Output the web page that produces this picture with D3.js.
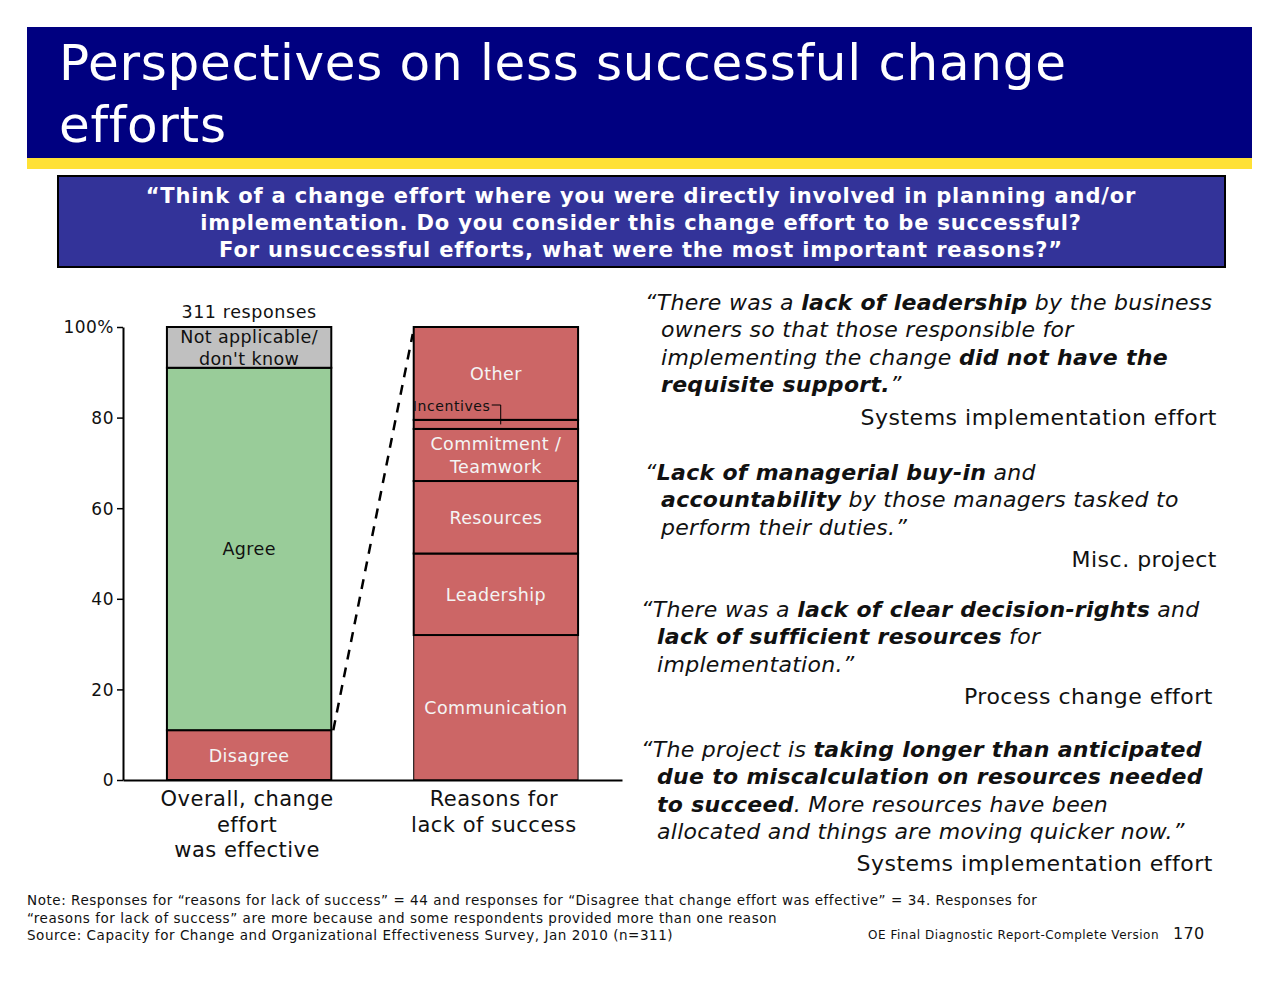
<!DOCTYPE html>
<html>
<head>
<meta charset="utf-8">
<script src="https://cdn.jsdelivr.net/npm/d3@7"></script>
<style>
  body { margin: 0; background: #fff; }
  svg { display: block; font-family: "DejaVu Sans", Verdana, sans-serif; }
</style>
</head>
<body>
<svg id="chart" width="1280" height="990"></svg>
<script>
// ---- data ----
var columns = ["overall", "reasons"];
var columnLabels = [["Overall, change", "effort", "was effective"], ["Reasons for", "lack of success"]];

var overallCats = ["Disagree", "Agree", "Not applicable/\ndon't know"];
var overallValues = [11, 80, 9];

var reasonCats = ["Communication", "Leadership", "Resources", "Commitment /\nTeamwork", "Incentives", "Other"];
var reasonValues = [32, 18, 16, 11.5, 2, 20.5];

var yTicks = [0, 20, 40, 60, 80, 100];

var titleLines = ["Perspectives on less successful change", "efforts"];
var questionLines = [
  "\u201cThink of a change effort where you were directly involved in planning and/or",
  "implementation. Do you consider this change effort to be successful?",
  "For unsuccessful efforts, what were the most important reasons?\u201d"
];

// quotes: each line is a list of [text, bold]
var quote1 = [
  [["\u201cThere was a ", 0], ["lack of leadership", 1], [" by the business", 0]],
  [["owners so that those responsible for", 0]],
  [["implementing the change ", 0], ["did not have the", 1]],
  [["requisite support.", 1], ["\u201d", 0]]
];
var quote2 = [
  [["\u201c", 0], ["Lack of managerial buy-in", 1], [" and", 0]],
  [["accountability", 1], [" by those managers tasked to", 0]],
  [["perform their duties.\u201d", 0]]
];
var quote3 = [
  [["\u201cThere was a ", 0], ["lack of clear decision-rights", 1], [" and", 0]],
  [["lack of sufficient resources", 1], [" for", 0]],
  [["implementation.\u201d", 0]]
];
var quote4 = [
  [["\u201cThe project is ", 0], ["taking longer than anticipated", 1]],
  [["due to miscalculation on resources needed", 1]],
  [["to succeed", 1], [". More resources have been", 0]],
  [["allocated and things are moving quicker now.\u201d", 0]]
];
var attributions = ["Systems implementation effort", "Misc. project", "Process change effort", "Systems implementation effort"];

var footnotes = [
  "Note: Responses for \u201creasons for lack of success\u201d = 44 and responses for \u201cDisagree that change effort was effective\u201d = 34. Responses for",
  "\u201creasons for lack of success\u201d are more because and some respondents provided more than one reason",
  "Source: Capacity for Change and Organizational Effectiveness Survey, Jan 2010 (n=311)"
];

// ---- colours ----
var red = "#CC6666", green = "#99CC99", grey = "#C0C0C0";
var overallColors = [red, green, grey];
var overallText = ["#f4f4f4", "#111", "#111"];

var svg = d3.select("#chart");

// header
svg.append("rect").attr("x", 27).attr("y", 27).attr("width", 1225).attr("height", 132).attr("fill", "#000080");
svg.append("rect").attr("x", 27).attr("y", 158).attr("width", 1225).attr("height", 11).attr("fill", "#FFE135");
svg.selectAll(".title").data(titleLines).enter().append("text")
  .attr("x", 59).attr("y", function(d, i) { return 80 + i * 62; })
  .attr("fill", "#fff").attr("font-size", 50).attr("letter-spacing", 0.7)
  .text(function(d) { return d; });

// question box
svg.append("rect").attr("x", 58).attr("y", 176).attr("width", 1167).attr("height", 91)
  .attr("fill", "#333399").attr("stroke", "#000").attr("stroke-width", 2);
svg.selectAll(".q").data(questionLines).enter().append("text")
  .attr("x", 641).attr("y", function(d, i) { return 203 + i * 27; })
  .attr("text-anchor", "middle").attr("fill", "#fff").attr("font-weight", "bold")
  .attr("font-size", 21).attr("letter-spacing", 0.85)
  .text(function(d) { return d; });

// ---- chart ----
var x = d3.scaleBand().domain(columns).range([123, 622]).paddingInner(0.334).paddingOuter(0.178);
var y = d3.scaleLinear().domain([0, 100]).range([780, 327]);

function stackUp(values) {
  var tops = d3.cumsum(values);
  return values.map(function(v, i) { return { y0: tops[i] - v, y1: tops[i] }; });
}
var overallStack = stackUp(overallValues);
var reasonStack = stackUp(reasonValues);

var g = svg.append("g");

// bars
g.selectAll(".b1").data(overallStack).enter().append("rect")
  .attr("x", x("overall")).attr("width", x.bandwidth())
  .attr("y", function(d) { return y(d.y1); })
  .attr("height", function(d) { return y(d.y0) - y(d.y1); })
  .attr("fill", function(d, i) { return overallColors[i]; })
  .attr("stroke", "#000").attr("stroke-width", 2);

g.selectAll(".b2").data(reasonStack).enter().append("rect")
  .attr("x", x("reasons")).attr("width", x.bandwidth())
  .attr("y", function(d) { return y(d.y1); })
  .attr("height", function(d) { return y(d.y0) - y(d.y1); })
  .attr("fill", red)
  .attr("stroke", "#000").attr("stroke-width", function(d, i) { return i === 0 ? 1 : 2; });

// segment labels
function segLabels(stack, cats, col, colorFn) {
  stack.forEach(function(d, i) {
    if (cats[i] === "Incentives") return;
    var lines = cats[i].split("\n");
    var mid = (y(d.y0) + y(d.y1)) / 2;
    var lh = 22.5;
    g.append("text")
      .attr("x", x(col) + x.bandwidth() / 2)
      .attr("y", mid - (lines.length - 1) * lh / 2 + 6.5)
      .attr("text-anchor", "middle").attr("font-size", 17.5).attr("letter-spacing", 0.4)
      .attr("fill", colorFn(i))
      .selectAll("tspan").data(lines).enter().append("tspan")
      .attr("x", x(col) + x.bandwidth() / 2)
      .attr("dy", function(l, j) { return j === 0 ? 0 : lh; })
      .text(function(l) { return l; });
  });
}
segLabels(overallStack, overallCats, "overall", function(i) { return overallText[i]; });
segLabels(reasonStack, reasonCats, "reasons", function() { return "#f4f4f4"; });

// Incentives call-out
var inc = reasonStack[reasonCats.indexOf("Incentives")];
var incMid = (y(inc.y0) + y(inc.y1)) / 2;
g.append("text").attr("x", x("reasons") - 1).attr("y", 411)
  .attr("font-size", 14).attr("letter-spacing", 0.6).attr("fill", "#111").text("Incentives");
g.append("path")
  .attr("d", "M" + (x("reasons") + 78) + ",405H" + (x("reasons") + 87) + "V" + incMid)
  .attr("fill", "none").attr("stroke", "#000").attr("stroke-width", 1);

// dashed connector: top of Disagree to top of reasons bar
g.append("line")
  .attr("x1", x("overall") + x.bandwidth() + 2).attr("y1", y(overallStack[0].y1))
  .attr("x2", x("reasons") - 1).attr("y2", y(100) + 7)
  .attr("stroke", "#000").attr("stroke-width", 2.5).attr("stroke-dasharray", "10,8");

// axes
var yAxis = g.append("g").attr("transform", "translate(123,0)")
  .call(d3.axisLeft(y).tickValues(yTicks).tickSize(6).tickSizeOuter(0)
    .tickFormat(function(d) { return d === 100 ? "100%" : d; }));
yAxis.select(".domain").attr("stroke-width", 2);
yAxis.selectAll(".tick line").attr("stroke-width", 1.5);
yAxis.selectAll("text").attr("font-size", 17).attr("letter-spacing", 0.5)
  .attr("font-family", "DejaVu Sans, Verdana, sans-serif").attr("fill", "#111").attr("dy", "0.35em");

var xAxis = g.append("g").attr("transform", "translate(0,780)")
  .call(d3.axisBottom(x).tickSize(0).tickSizeOuter(0).tickFormat(""));
xAxis.select(".domain").attr("stroke-width", 2);

columns.forEach(function(c, i) {
  g.append("text").attr("text-anchor", "middle").attr("font-size", 21).attr("letter-spacing", 0.5).attr("fill", "#111")
    .attr("y", 806)
    .selectAll("tspan").data(columnLabels[i]).enter().append("tspan")
    .attr("x", x(c) + x.bandwidth() / 2 - 2)
    .attr("dy", function(d, j) { return j === 0 ? 0 : 25.5; })
    .text(function(d) { return d; });
});

g.append("text").attr("x", x("overall") + x.bandwidth() / 2).attr("y", 318)
  .attr("text-anchor", "middle").attr("font-size", 17.5).attr("letter-spacing", 0.6).attr("fill", "#111").text("311 responses");

// ---- quotes ----
function drawQuote(lines, x0, indent, y0, attr, attrX, attrY) {
  lines.forEach(function(parts, i) {
    var t = svg.append("text").attr("x", i === 0 ? x0 : indent).attr("y", y0 + i * 27.3)
      .attr("font-size", 22).attr("letter-spacing", 0.3).attr("font-style", "italic").attr("fill", "#111");
    t.selectAll("tspan").data(parts).enter().append("tspan")
      .attr("font-weight", function(p) { return p[1] ? "bold" : "normal"; })
      .text(function(p) { return p[0]; });
  });
  svg.append("text").attr("x", attrX).attr("y", attrY).attr("text-anchor", "end")
    .attr("font-size", 22).attr("letter-spacing", 0.5).attr("fill", "#111").text(attr);
}
drawQuote(quote1, 645, 661, 310, attributions[0], 1217, 425);
drawQuote(quote2, 645, 661, 480, attributions[1], 1217, 567);
drawQuote(quote3, 641, 657, 617, attributions[2], 1213, 704);
drawQuote(quote4, 641, 657, 757, attributions[3], 1213, 871);

// ---- footer ----
svg.selectAll(".fn").data(footnotes).enter().append("text")
  .attr("x", 27).attr("y", function(d, i) { return 905 + i * 17.5; })
  .attr("font-size", 13.5).attr("letter-spacing", 0.55).attr("fill", "#111")
  .text(function(d) { return d; });
svg.append("text").attr("x", 1159).attr("y", 939).attr("text-anchor", "end")
  .attr("font-size", 12).attr("letter-spacing", 0.5).attr("fill", "#111").text("OE Final Diagnostic Report-Complete Version");
svg.append("text").attr("x", 1173).attr("y", 939)
  .attr("font-size", 16).attr("letter-spacing", 0.3).attr("fill", "#111").text("170");
</script>
</body>
</html>
